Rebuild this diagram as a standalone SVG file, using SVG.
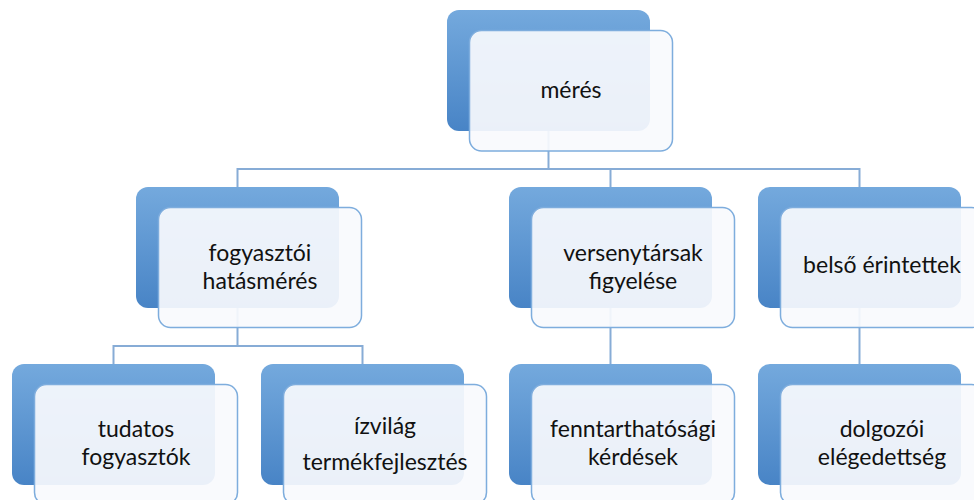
<svg xmlns="http://www.w3.org/2000/svg" width="974" height="500" viewBox="0 0 974 500">
<defs>
<linearGradient id="bg" x1="0" y1="0" x2="0" y2="1">
<stop offset="0" stop-color="#74a9dd"/>
<stop offset="1" stop-color="#4884c6"/>
</linearGradient>
</defs>
<style>
.back{fill:url(#bg);}
.front{fill:#f8fafd;fill-opacity:0.92;stroke:#7eaddd;stroke-width:1.5;}
.conn{fill:none;stroke:#87acd6;stroke-width:2;}
text{font-family:Lato,"Open Sans","Liberation Sans",sans-serif;font-size:23px;fill:#111111;text-anchor:middle;}
</style>
<rect width="974" height="500" fill="#ffffff"/>
<g id="connectors">
<path class="conn" d="M548.5,131 V169"/>
<path class="conn" d="M237.5,187 V169 H859.5 V187"/>
<path class="conn" d="M610.5,169 V187"/>
<path class="conn" d="M237.5,308 V346"/>
<path class="conn" d="M113.5,364 V346 H362.5 V364"/>
<path class="conn" d="M610.5,308 V364"/>
<path class="conn" d="M859.5,308 V364"/>
</g>
<g id="node-meres">
<rect class="back" x="447" y="10" width="203" height="121" rx="12"/>
<rect class="front" x="469.5" y="30.5" width="203" height="120.5" rx="12"/>
<text x="571" y="98">mérés</text>
</g>
<g id="node-fogyasztoi">
<rect class="back" x="136" y="187" width="203" height="121" rx="12"/>
<rect class="front" x="158.5" y="207.5" width="203" height="120" rx="12"/>
<text x="260" y="261">fogyasztói</text>
<text x="260" y="289">hatásmérés</text>
</g>
<g id="node-versenytarsak">
<rect class="back" x="509" y="187" width="203" height="121" rx="12"/>
<rect class="front" x="531.5" y="207.5" width="203" height="120" rx="12"/>
<text x="633" y="261">versenytársak</text>
<text x="633" y="289">figyelése</text>
</g>
<g id="node-belso">
<rect class="back" x="758" y="187" width="203" height="121" rx="12"/>
<rect class="front" x="780.5" y="207.5" width="203" height="120" rx="12"/>
<text x="882" y="273">belső érintettek</text>
</g>
<g id="node-tudatos">
<rect class="back" x="12" y="364" width="203" height="121" rx="12"/>
<rect class="front" x="34.5" y="384.5" width="203" height="120" rx="12"/>
<text x="136" y="437">tudatos</text>
<text x="136" y="465">fogyasztók</text>
</g>
<g id="node-izvilag">
<rect class="back" x="261" y="364" width="203" height="121" rx="12"/>
<rect class="front" x="283.5" y="384.5" width="203" height="120" rx="12"/>
<text x="385" y="434">ízvilág</text>
<text x="385" y="470">termékfejlesztés</text>
</g>
<g id="node-fenntarthatosagi">
<rect class="back" x="509" y="364" width="203" height="121" rx="12"/>
<rect class="front" x="531.5" y="384.5" width="203" height="120" rx="12"/>
<text x="633" y="437">fenntarthatósági</text>
<text x="633" y="465">kérdések</text>
</g>
<g id="node-dolgozoi">
<rect class="back" x="758" y="364" width="203" height="121" rx="12"/>
<rect class="front" x="780.5" y="384.5" width="203" height="120" rx="12"/>
<text x="882" y="437">dolgozói</text>
<text x="882" y="465">elégedettség</text>
</g>
</svg>
